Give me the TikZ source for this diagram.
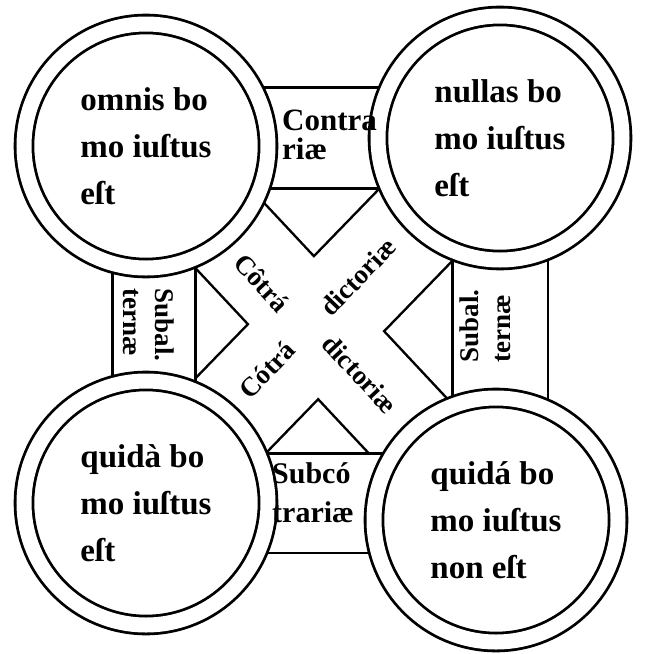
\documentclass[tikz,border=0pt]{standalone}
\usepackage{fontspec}
\setmainfont{Liberation Serif}
\usetikzlibrary{backgrounds}

\begin{document}
\begin{tikzpicture}[x=1pt, y=-1pt,
    ring/.style={circle, draw, fill=white, line width=2.8pt, double=white, double distance=15pt,
      minimum size=244pt, inner sep=0pt, align=left, font=\fontsize{33}{47}\selectfont\bfseries},
    band/.style={line width=2.6pt, double=white, double distance=#1},
    lab/.style={inner sep=0pt, align=left, font=\fontsize{30}{#1}\selectfont\bfseries},
    cross/.style={inner sep=0pt, font=\fontsize{27}{27}\selectfont\bfseries}]
    \useasboundingbox (0,0) rectangle (648,654);

    \node[ring] (A) at (146,146) {omnis bo\\mo iuſtus\\eſt};
    \node[ring] (E) at (500,138) {nullas bo\\mo iuſtus\\eſt};
    \node[ring] (I) at (146,503) {quidà bo\\mo iuſtus\\eſt};
    \node[ring] (O) at (496,520) {quidá bo\\mo iuſtus\\non eſt};

    \begin{scope}[on background layer]
        \draw[line width=97pt] (A.center) -- (O.center);
        \draw[line width=105pt] (I.center) -- (E.center);
        \draw[white, line width=92pt] (A.center) -- (O.center);
        \draw[white, line width=100pt] (I.center) -- (E.center);

        \draw[band=98pt] (E.center -| A.center) -- (E.center);
        \draw[band=80pt] ([xshift=8pt]A.center) -- ([xshift=8pt]I.center);
        \draw[band=93pt] (E.center) -- (E.center |- O.center);
        \draw[band=97pt] (I.center) -- (I.center -| O.center);
    \end{scope}

    \node[lab=29, anchor=west, font=\fontsize{31}{29}\selectfont\bfseries] (contr) at (282,135) {Contra\\riæ};
    \node[lab=39, anchor=west] (subco) at (272,493) {Subcó\\trariæ};
    \node[lab=32, rotate=-90, font=\fontsize{27}{32}\selectfont\bfseries] (subalL) at (149,325) {Subal.\\ternæ};
    \node[lab=32, rotate=90, font=\fontsize{27}{32}\selectfont\bfseries] (subalR) at (485,326) {Subal.\\ternæ};

    \node[cross, rotate=-47] (ct1) at (262,283) {Côtrá};
    \node[cross, rotate=46] (dc1) at (358,277) {dictoriæ};
    \node[cross, rotate=46] (ct2) at (267,370) {Cótrá};
    \node[cross, rotate=-47] (dc2) at (360,374) {dictoriæ};
\end{tikzpicture}
\end{document}
